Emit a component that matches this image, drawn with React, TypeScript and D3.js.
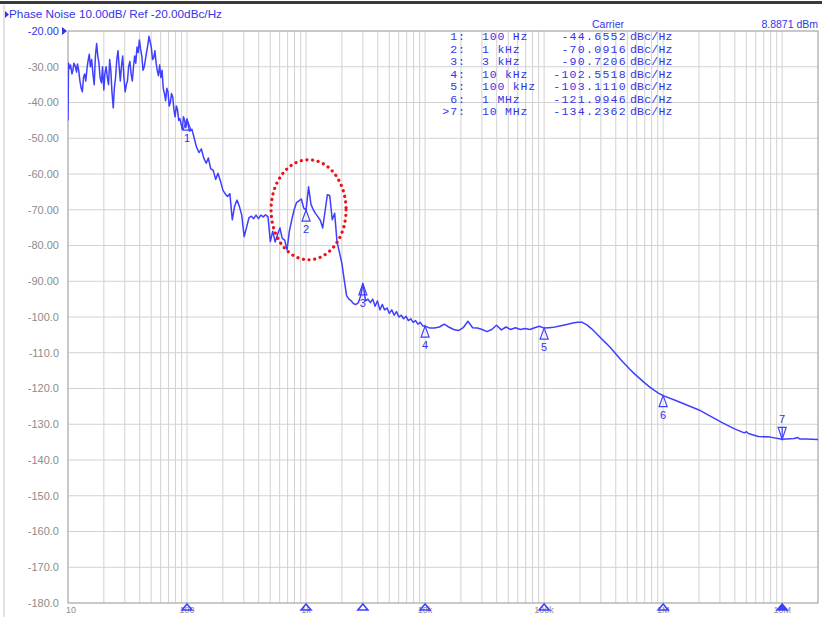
import React from "react";
import * as d3 from "d3";

// ---- data ----
const headerText = "Phase Noise 10.00dB/ Ref -20.00dBc/Hz";
const carrierLabel = "Carrier";
const carrierPower = "8.8871 dBm";

const yTicks = [-20, -30, -40, -50, -60, -70, -80, -90, -100, -110, -120, -130, -140, -150, -160, -170, -180];
const yTickLabels = ["-20.00", "-30.00", "-40.00", "-50.00", "-60.00", "-70.00", "-80.00", "-90.00", "-100.0", "-110.0", "-120.0", "-130.0", "-140.0", "-150.0", "-160.0", "-170.0", "-180.0"];

const xDecades = [10, 100, 1000, 10000, 100000, 1000000, 10000000];
const xTickLabels = ["10", "100", "1k", "10k", "100k", "1M", "10M"];

const markerIds = ["1", "2", "3", "4", "5", "6", "7"];
const markerTableIds = ["1:", "2:", "3:", "4:", "5:", "6:", ">7:"];
const markerFreqs = [100, 1000, 3000, 10000, 100000, 1000000, 10000000];
const markerFreqLabels = ["100 Hz", "1 kHz", "3 kHz", "10 kHz", "100 kHz", "1 MHz", "10 MHz"];
const markerValues = [-44.6552, -70.0916, -90.7206, -102.5518, -103.111, -121.9946, -134.2362];
const markerValueLabels = ["-44.6552", "-70.0916", "-90.7206", "-102.5518", "-103.1110", "-121.9946", "-134.2362"];
const markerUnit = "dBc/Hz";

// phase noise trace: [offset frequency Hz, dBc/Hz]
const trace: [number, number][] = [
  [10, -45], [10.1, -29], [10.3, -30.5], [10.5, -29.5], [10.8, -32], [11, -31], [11.2, -29], [11.5, -29.8], [11.8, -31.5],
  [12, -29.2], [12.3, -31], [12.6, -34], [12.9, -36], [13.2, -37], [13.5, -33], [13.8, -32], [14.1, -34], [14.5, -30],
  [14.8, -28], [15.1, -26.5], [15.4, -30], [15.8, -28], [16.2, -32], [16.6, -35], [17, -27], [17.4, -23.5], [17.8, -27],
  [18.2, -29], [18.6, -33], [19.1, -34.5], [19.5, -30], [20, -36.5], [20.4, -32], [20.9, -30], [21.4, -33], [21.9, -35],
  [22.4, -28], [22.9, -31], [23.4, -37], [24, -41.5], [24.5, -36], [25.1, -33], [25.7, -28], [26.3, -25.5], [26.9, -30],
  [27.5, -34], [28.1, -30], [28.8, -27], [29.5, -33], [30.2, -37], [30.9, -35], [31.6, -34], [32.3, -30], [33.1, -28.5],
  [33.9, -32], [34.7, -34], [35.5, -30], [36.3, -27], [37.1, -29], [38, -24.5], [38.9, -26], [39.8, -22.5], [40.7, -25],
  [41.7, -27], [42.7, -31], [43.7, -30], [44.7, -28], [45.7, -26], [46.8, -24], [47.9, -21.5], [49, -23], [50.1, -24.5],
  [51.3, -28], [52.5, -27.5], [53.7, -25.5], [55, -29], [56.2, -31], [57.5, -32.5], [58.9, -29.5], [60.3, -33], [61.7, -31],
  [63.1, -36], [64.6, -37.5], [66.1, -39.5], [67.6, -36], [69.2, -37], [70.8, -41], [72.4, -40], [74.1, -37.5], [75.9, -38.5],
  [77.6, -42], [79.4, -44], [81.3, -41], [83.2, -42], [85.1, -45], [87.1, -44.5], [89.1, -46], [91.2, -47.5], [93.3, -44],
  [95.5, -45], [97.7, -47], [100, -44.7],
  [105, -48], [110, -47.5], [115, -50], [120, -52.4], [126, -54], [132, -53], [138, -55.5], [145, -57], [151, -55.5],
  [158, -58.5], [166, -59], [174, -61.5], [182, -59.8], [191, -62], [200, -64.5], [209, -65.5], [219, -66.3],
  [229, -65.5], [240, -72.8], [251, -69], [263, -67.3], [275, -69], [288, -71.5], [302, -77.5], [316, -75],
  [331, -72.3], [347, -71.8], [363, -72.5], [380, -71.5], [398, -72.5], [417, -71.5], [437, -72], [457, -71.4],
  [479, -72], [501, -78.9], [525, -76], [550, -79], [575, -77], [603, -75.1], [631, -78], [661, -78.5], [692, -81.2],
  [724, -76], [759, -72.8], [794, -70], [832, -68], [871, -67.5], [912, -67], [955, -69.5], [1000, -70.1],
  [1050, -63.6], [1100, -68.5], [1150, -70], [1200, -71], [1260, -72], [1320, -73], [1380, -75.1], [1450, -70],
  [1510, -65.8], [1580, -66], [1660, -72.8], [1740, -71], [1820, -79], [1910, -82], [2000, -85], [2090, -89.5],
  [2190, -94], [2290, -95], [2400, -95.5], [2510, -96.3], [2630, -96.5], [2750, -96], [2880, -94], [3000, -90.7],
  [3020, -91], [3160, -95.5], [3310, -95], [3470, -96], [3630, -95], [3800, -97], [3980, -95.5], [4170, -98],
  [4370, -96.5], [4570, -98], [4790, -97.5], [5010, -99], [5250, -98], [5500, -99.5], [5750, -98.5], [6030, -100],
  [6310, -99.5], [6610, -100.5], [6920, -99.8], [7240, -101], [7590, -100.5], [7940, -101.5], [8320, -101],
  [8710, -102], [9120, -101.5], [9550, -102.5], [10000, -102.55],
  [11000, -103.1], [12000, -103.1], [13200, -102.8], [14500, -102], [15800, -102.8], [17400, -103.5],
  [19100, -103.8], [20900, -103], [22900, -101.2], [25100, -103], [27500, -103.1], [30200, -103.5],
  [33100, -104.1], [36300, -103.5], [39800, -102.3], [43700, -103.6], [47900, -102.8], [52500, -103.5],
  [57500, -103], [63100, -103.5], [69200, -103.2], [75900, -103.5], [83200, -103], [91200, -102.6], [100000, -103.1],
  [110000, -103], [120000, -102.9], [132000, -102.6], [145000, -102.3], [158000, -102], [174000, -101.7],
  [191000, -101.5], [209000, -101.5], [229000, -102.2], [251000, -103.3], [275000, -104.6], [302000, -106],
  [331000, -107.3], [363000, -108.7], [398000, -110.2], [437000, -111.8], [479000, -113.2], [525000, -114.6],
  [575000, -115.9], [631000, -117.1], [692000, -118.3], [759000, -119.4], [832000, -120.4], [912000, -121.3],
  [1000000, -122],
  [1260000, -123.3], [1580000, -124.6], [2000000, -126], [2510000, -127.8], [3160000, -129.6], [3980000, -131.3],
  [4800000, -132.4], [5010000, -132.1], [5200000, -132.6], [6310000, -133.4], [7940000, -133.6], [10000000, -134.2],
  [12600000, -134], [13500000, -133.7], [14000000, -134.1], [15800000, -134.1], [20000000, -134.3],
];

const highlightFreq = 1050;
const highlightLevel = -70;

// ---- styles ----
const BLUE = "#3f3fff";
const TEXTBLUE = "#3434e8";
const GRID = "#d2d2d2";
const AXISGREY = "#8c8c8c";

export default function App() {
  const W = 827, H = 617;
  const x = d3.scaleLog().domain([10, 2e7]).range([68, 818]);
  const y = d3.scaleLinear().domain([-180, -20]).range([603, 31]);
  const [x0, x1] = x.range();
  const [yb, yt] = y.range();

  const vGrid: number[] = [];
  xDecades.forEach((d) => {
    for (let m = 1; m <= 9; m++) {
      const f = d * m;
      if (f <= 2e7) vGrid.push(f);
    }
  });

  const line = d3.line<[number, number]>().x((d) => x(d[0])).y((d) => y(d[1]));

  return (
    <svg width={W} height={H} style={{ position: "absolute", left: 0, top: 0, display: "block", background: "#fff" }}
      fontFamily="'Liberation Sans', Arial, sans-serif">
      {/* window frame */}
      <rect x={0} y={1} width={822} height={3} fill="#3a3a3a" />
      <line x1={4} x2={4} y1={5} y2={H} stroke="#c4c4c4" strokeWidth={1} />

      {/* header */}
      <path d="M5,11 L9,14.5 L5,18 Z" fill={TEXTBLUE} />
      <text x={9} y={18} fontSize={11} fill={TEXTBLUE} textLength={213} lengthAdjust="spacingAndGlyphs">{headerText}</text>
      <text x={608} y={28} fontSize={10.5} fill={TEXTBLUE} textAnchor="middle">{carrierLabel}</text>
      <text x={818} y={28} fontSize={10.5} fill={TEXTBLUE} textAnchor="end">{carrierPower}</text>

      {/* grid */}
      {vGrid.map((f, i) => (
        <line key={"v" + i} x1={x(f)} x2={x(f)} y1={yt} y2={yb} stroke={GRID} strokeWidth={1} />
      ))}
      {yTicks.map((t, i) => (
        <line key={"h" + i} x1={x0} x2={x1} y1={y(t)} y2={y(t)} stroke={GRID} strokeWidth={1} />
      ))}
      <rect x={x0} y={yt} width={x1 - x0} height={yb - yt} fill="none" stroke="#a8a8a8" strokeWidth={1} />

      {/* y labels */}
      {yTicks.map((t, i) => (
        <text key={"yl" + i} x={59} y={y(t)} dy="0.35em" fontSize={11} textAnchor="end"
          fill={i === 0 ? TEXTBLUE : AXISGREY}>{yTickLabels[i]}</text>
      ))}
      <path d={`M62,${y(-20) - 4} L67,${y(-20)} L62,${y(-20) + 4} Z`} fill={TEXTBLUE} />

      {/* x labels */}
      {xTickLabels.map((l, i) => (
        <text key={"xl" + i} x={x(xDecades[i])} y={613} fontSize={9} textAnchor={i === 0 ? "start" : "middle"}
          dx={i === 0 ? -2 : 0} fill={AXISGREY}>{l}</text>
      ))}

      {/* marker table */}
      {markerTableIds.map((id, i) => {
        const by = 40 + i * 12.5;
        return (
          <g key={"mt" + i} fontFamily="'Liberation Mono', 'DejaVu Sans Mono', monospace" fontSize={11.5} fill={TEXTBLUE}>
            <text x={466} y={by} textAnchor="end" letterSpacing={1}>{id}</text>
            <text x={482} y={by} letterSpacing={0.8}>{markerFreqLabels[i]}</text>
            <text x={627} y={by} textAnchor="end" letterSpacing={1.3}>{markerValueLabels[i]}</text>
            <text x={630} y={by} letterSpacing={0.2}>{markerUnit}</text>
          </g>
        );
      })}

      {/* trace */}
      <clipPath id="plotclip"><rect x={x0} y={yt} width={x1 - x0} height={yb - yt} /></clipPath>
      <path d={line(trace) || ""} fill="none" stroke={BLUE} strokeWidth={1.5} strokeLinejoin="round" clipPath="url(#plotclip)" />

      {/* markers on trace */}
      {markerFreqs.map((f, i) => {
        const mx = x(f), my = y(markerValues[i]);
        if (i === 6) {
          return (
            <g key={"m" + i} stroke={BLUE} fill="none" strokeWidth={1.2}>
              <path d={`M${mx},${my} L${mx - 4},${my - 12} L${mx + 4},${my - 12} Z`} />
              <line x1={mx} x2={mx} y1={my - 12} y2={my} />
              <text x={mx} y={my - 16} fontSize={11} textAnchor="middle" fill={TEXTBLUE} stroke="none">{markerIds[i]}</text>
            </g>
          );
        }
        return (
          <g key={"m" + i} stroke={BLUE} fill="none" strokeWidth={1.2}>
            <path d={`M${mx},${my} L${mx - 4},${my + 11} L${mx + 4},${my + 11} Z`} />
            <text x={mx} y={my + 23} fontSize={11} textAnchor="middle" fill={TEXTBLUE} stroke="none">{markerIds[i]}</text>
          </g>
        );
      })}

      {/* markers on x axis */}
      {markerFreqs.map((f, i) => {
        const mx = x(f);
        return (
          <path key={"bm" + i} d={`M${mx},${yb + 1} L${mx - 5},${yb + 7} L${mx + 5},${yb + 7} Z`}
            fill={i === 6 ? BLUE : "none"} stroke={BLUE} strokeWidth={1.6} />
        );
      })}

      {/* highlight ellipse */}
      <ellipse cx={x(highlightFreq)} cy={y(highlightLevel)} rx={37.5} ry={50} fill="none" stroke="#e8141a"
        strokeWidth={3.2} strokeDasharray="0.1 5.6" strokeLinecap="round" />
    </svg>
  );
}
